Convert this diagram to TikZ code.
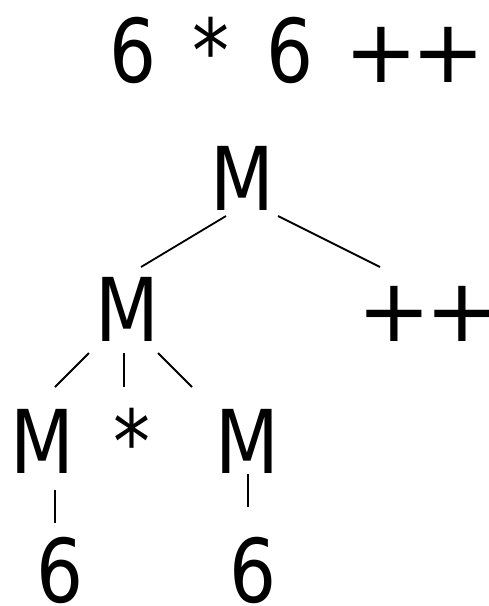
\documentclass[tikz,border=0pt]{standalone}
\usepackage{fontspec}
\setmainfont{DejaVu Sans}[FakeStretch=0.84]
\newfontfamily\plusfont{DejaVu Sans}
\begin{document}
\begin{tikzpicture}[x=1pt,y=1pt,
  sym/.style={inner sep=0pt,outer sep=0pt,anchor=base,font=\fontsize{88}{106}\selectfont},
  edge/.style={line width=1.8pt,black}]
\useasboundingbox (0,0) rectangle (489,-606);
\node[sym,anchor=base west] (title) at (109,-82) {6\hspace{37pt}*\hspace{37pt}6\hspace{30pt}{\plusfont +\kern-6pt+}};
\node[sym] (top) at (242,-210) {M};
\node[sym] (mid) at (127.5,-341) {M};
\node[sym] (pp) at (428.5,-341) {\plusfont +\kern-6pt+};
\node[sym] (lM) at (42.5,-473) {M};
\node[sym] (star) at (132,-473) {*};
\node[sym] (rM) at (247.5,-473) {M};
\node[sym] (l6) at (60,-602) {6};
\node[sym] (r6) at (253.5,-602) {6};
\draw[edge] ([shift={(-16,-6)}]top.base) -- ([shift={(13.5,74)}]mid.base);
\draw[edge] ([shift={(36,-6)}]top.base) -- ([shift={(-48.5,74)}]pp.base);
\draw[edge] ([shift={(-38.5,-12)}]mid.base) -- ([shift={(12.5,86)}]lM.base);
\draw[edge] ([shift={(-3.5,-12)}]mid.base) -- ([shift={(-8,86)}]star.base);
\draw[edge] ([shift={(30.5,-12)}]mid.base) -- ([shift={(-55.5,86)}]rM.base);
\draw[edge] ([shift={(12.5,-17)}]lM.base) -- ([shift={(-5,79)}]l6.base);
\draw[edge] ([shift={(0.5,-1)}]rM.base) -- ([shift={(-5.5,95)}]r6.base);
\end{tikzpicture}
\end{document}
